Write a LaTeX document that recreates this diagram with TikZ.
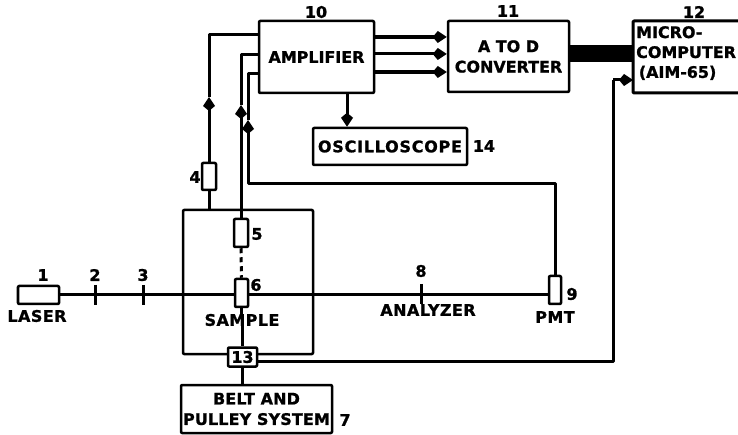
\documentclass[tikz,border=0pt]{standalone}
\usepackage{fontspec}
\setmainfont{DejaVu Sans}[BoldFeatures={FakeBold=1.2}]
\usetikzlibrary{arrows.meta,calc}
\newcommand{\lf}{\fontsize{16}{20.5}\selectfont\bfseries}
\tikzset{
  x=1bp,y=-1bp,
  conn/.style={line width=3bp,line join=round},
  boxline/.style={line width=2.5bp,line join=round},
  boxn/.style={draw,boxline,rounded corners=1bp,inner sep=0pt,font=\lf,align=center,text=black},
  part/.style={draw,boxline,fill=white,rounded corners=1bp,inner sep=0pt,minimum width=13bp},
  txt/.style={inner sep=0pt,font=\lf,align=center},
  num/.style={inner sep=0pt,font=\lf},
  head/.style={conn,-{Kite[length=14bp,width=12bp,inset=5bp]}},
}
\begin{document}
\begin{tikzpicture}
\useasboundingbox (0,0) rectangle (738,435);
% boxes
\node[boxn,minimum width=115bp,minimum height=72bp,text depth=-3bp] (amp) at (316.5,57) {AMPLIFIER};
\node[boxn,minimum width=121bp,minimum height=71bp] (adc) at (508.5,56.5) {A TO D\\CONVERTER};
\node[boxn,minimum width=154bp,minimum height=37bp] (osc) at (390,146.5) {\addfontfeature{LetterSpace=5}OSCILLOSCOPE};
\node[boxn,minimum width=41bp,minimum height=18bp] (laser) at (38.5,295) {};
\node[draw,boxline,rounded corners=1bp,minimum width=130bp,minimum height=144bp,inner sep=0pt] (samplebox) at (248,282) {};
\node[part,minimum width=29bp,minimum height=19bp,font=\lf,inner sep=0pt] (n13) at (242.5,357) {13};
\node[boxn,minimum width=151bp,minimum height=48bp] (belt) at (256.5,409) {\addfontfeature{LetterSpace=1}BELT AND\\\addfontfeature{LetterSpace=1}PULLEY SYSTEM};
\node[part,minimum width=14bp,minimum height=27bp] (f4) at (209,176.5) {};
\node[part,minimum width=14bp,minimum height=28bp] (f5) at (241,233) {};
\node[part,minimum width=13bp,minimum height=28bp] (f6) at (241.5,293) {};
\node[part,minimum width=12bp,minimum height=28bp] (pmt) at (555,290) {};
% microcomputer, open at the picture edge
\coordinate (mnw) at (738,21);
\coordinate (msw) at (738,93);
\draw[conn,rounded corners=1bp] (mnw) -- (633,21) coordinate (mtl) -- (633,93) coordinate (mbl) -- (msw);
\node[txt,anchor=north west,align=left] (micro) at (636,26) {MICRO-\\[-0.5pt]COMPUTER\\[-0.5pt]\,(AIM-65)};
% text
\node[num] (l10) at (316,12) {10};
\node[num] (l11) at (508,11) {11};
\node[num] (l12) at (694,12) {12};
\node[num] (l14) at (484,146) {14};
\node[num] (l1) at (43,275) {1};
\node[num] (l2) at (95,275) {2};
\node[num] (l3) at (143,275) {3};
\node[num] (l4) at (195,177) {4};
\node[num] (l5) at (257,234) {5};
\node[num] (l6) at (256,285) {6};
\node[num] (l7) at (345,420) {7};
\node[num] (l8) at (421,271) {8};
\node[num] (l9) at (572,294) {9};
\node[txt] (llaser) at (37,316) {\addfontfeature{LetterSpace=3}LASER};
\node[txt] (lsample) at (242,320) {\addfontfeature{LetterSpace=3}SAMPLE};
\node[txt] (lanalyzer) at (428,310) {\addfontfeature{LetterSpace=3}ANALYZER};
\node[txt] (lpmt) at (555,317) {\addfontfeature{LetterSpace=3}PMT};
% beam
\coordinate (t2a) at (95,285); \coordinate (t2b) at (95,305);
\coordinate (t3a) at (143,285); \coordinate (t3b) at (143,305);
\coordinate (t8a) at (421,284); \coordinate (t8b) at (421,304);
\draw[conn] (t2a) -- (t2b); \draw[conn] (t3a) -- (t3b); \draw[conn] (t8a) -- (t8b);
\draw[conn] (laser.east) -- (laser.east -| f6.west);
\draw[conn] (laser.east -| f6.east) -- (laser.east -| pmt.west);
\draw[conn,dash pattern=on 5bp off 4bp] (f5.south) -- (f6.north);
\draw[conn] (f6.south) -- (lsample.north -| f6.south);
\draw[conn] (lsample.south -| n13.north) -- (n13.north);
\draw[conn] (n13.south) -- (n13.south |- belt.north);
% signal lines
\coordinate (a1) at (amp.west |- 0,35);
\coordinate (a2) at (amp.west |- 0,55);
\coordinate (a3) at (amp.west |- 0,74);
\coordinate (m1) at (f4.north |- 0,97);
\coordinate (m2) at (f5.north |- 0,105);
\coordinate (m3) at (248,120);
\draw[conn] (f4.south) -- (f4.south |- samplebox.north);
\draw[head] (f4.north) -- (m1);
\draw[conn] (m1) -- (m1 |- a1) -- (a1);
\draw[head] (f5.north) -- (m2);
\draw[conn] (m2) -- (m2 |- a2) -- (a2);
\draw[head] (pmt.north) -- (pmt.north |- 0,184) -- (m3 |- 0,184) -- (m3);
\draw[conn] (m3) -- (m3 |- a3) -- (a3);
% amplifier outputs
\draw[head,line width=3.6bp] (amp.east |- 0,37) -- (adc.west |- 0,37);
\draw[head] (amp.east |- 0,54) -- (adc.west |- 0,54);
\draw[head,line width=3.4bp] (amp.east |- 0,72) -- (adc.west |- 0,72);
\draw[head] (amp.south -| 347,0) -- (osc.north -| 347,0);
% data bus
\fill (adc.east |- 0,45) rectangle (mtl |- 0,62);
% encoder to computer
\draw[conn] (n13.east) ++(0,4) coordinate (e13) -- (613,361) coordinate (c1) -- (613,80) coordinate (c2);
\draw[head] (c2) -- (mtl |- c2);
\end{tikzpicture}
\end{document}
